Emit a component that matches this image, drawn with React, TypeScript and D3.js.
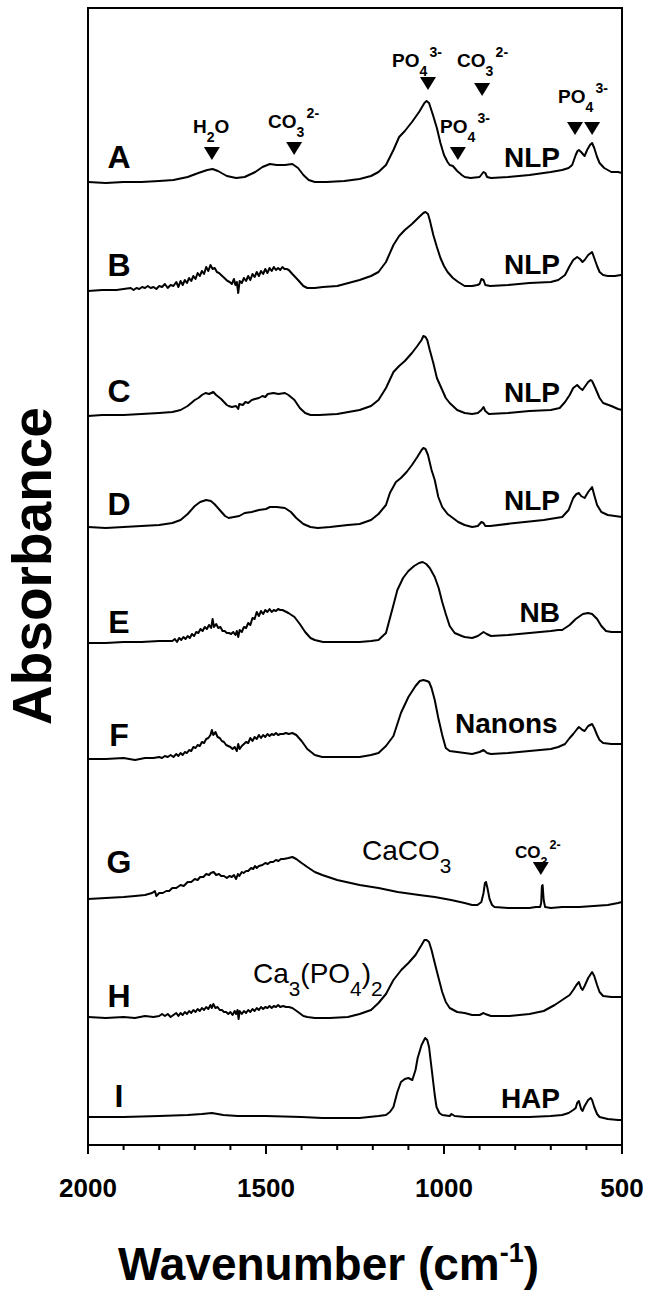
import { useRef, useEffect } from "react"
import * as d3 from "d3"

type Pt = [number, number]

// FTIR spectra: [wavenumber cm-1, absorbance x100 above the trace's own baseline]
const specA: Pt[] = [
  [2000, 0], [1950, -1], [1900, 0], [1850, 0], [1800, 1], [1760, 2], [1720, 5], [1690, 9], [1665, 12], [1650, 13],
  [1635, 11], [1610, 6], [1584, 4], [1560, 5], [1530, 10], [1510, 15], [1489, 18], [1470, 17], [1447, 17], [1426, 18],
  [1410, 14], [1395, 7], [1380, 2], [1363, 0], [1330, 0], [1280, 1], [1237, 3], [1205, 6], [1184, 10], [1163, 17],
  [1142, 32], [1126, 45], [1110, 51], [1090, 60], [1070, 70], [1055, 79], [1049, 81], [1042, 79], [1031, 67], [1020, 54],
  [1010, 39], [1000, 27], [990, 20], [984, 17], [975, 16], [963, 11], [950, 7], [942, 5], [925, 4], [900, 5],
  [889, 10], [884, 9], [879, 5], [868, 4], [820, 5], [760, 7], [700, 10], [668, 12], [650, 14], [640, 17],
  [630, 27], [625, 31], [621, 32], [615, 30], [605, 26], [598, 32], [590, 37], [584, 39], [578, 34], [570, 25],
  [563, 19], [550, 14], [530, 10], [511, 10], [500, 9],
]
const specB: Pt[] = [
  [2000, 0], [1960, 1], [1920, 1], [1880, 3], [1872, 1], [1864, 3], [1856, 2], [1848, 4], [1840, 3], [1832, 5],
  [1824, 3], [1816, 4], [1808, 2], [1800, 5], [1792, 4], [1784, 7], [1776, 3], [1768, 6], [1760, 5], [1752, 9],
  [1746, 4], [1740, 10], [1734, 6], [1728, 11], [1722, 8], [1716, 13], [1710, 10], [1704, 15], [1698, 12], [1692, 18],
  [1686, 15], [1680, 20], [1674, 17], [1668, 24], [1662, 20], [1656, 26], [1650, 22], [1644, 23], [1638, 19], [1632, 18],
  [1626, 16], [1620, 14], [1614, 12], [1608, 10], [1602, 9], [1596, 7], [1590, 12], [1586, 6], [1582, 9], [1578, -2],
  [1574, 10], [1568, 8], [1562, 13], [1556, 10], [1550, 15], [1544, 11], [1538, 17], [1532, 14], [1526, 19], [1520, 15],
  [1514, 20], [1508, 17], [1502, 22], [1496, 18], [1490, 23], [1484, 20], [1478, 24], [1472, 21], [1466, 23], [1460, 21],
  [1454, 24], [1448, 22], [1442, 22], [1436, 21], [1426, 17], [1410, 11], [1395, 5], [1384, 3], [1363, 3], [1340, 4],
  [1300, 5], [1237, 11], [1205, 15], [1184, 19], [1163, 29], [1142, 46], [1126, 55], [1110, 61], [1090, 67], [1070, 74],
  [1058, 78], [1052, 79], [1045, 77], [1040, 71], [1030, 56], [1020, 44], [1010, 33], [1000, 25], [990, 19], [975, 13],
  [960, 9], [942, 5], [921, 5], [906, 6], [900, 7], [895, 12], [889, 11], [884, 6], [870, 5], [820, 6],
  [760, 8], [700, 9], [679, 11], [660, 16], [647, 25], [637, 31], [626, 34], [618, 32], [611, 29], [605, 31],
  [595, 36], [584, 39], [578, 33], [570, 25], [563, 19], [553, 16], [540, 15], [520, 15], [503, 16], [500, 16],
]
const specC: Pt[] = [
  [2000, -1], [1960, 0], [1900, 0], [1850, 1], [1800, 2], [1763, 3], [1740, 5], [1720, 9], [1700, 15], [1690, 17],
  [1680, 20], [1670, 22], [1660, 21], [1648, 23], [1640, 20], [1626, 16], [1610, 10], [1605, 9], [1596, 8], [1584, 9],
  [1578, 6], [1575, 11], [1565, 10], [1558, 13], [1550, 12], [1540, 15], [1531, 16], [1520, 17], [1510, 19], [1502, 18],
  [1495, 21], [1479, 22], [1465, 21], [1447, 22], [1437, 20], [1420, 15], [1405, 7], [1390, 2], [1375, 0], [1350, 0],
  [1300, 1], [1237, 5], [1205, 9], [1184, 15], [1163, 27], [1142, 43], [1126, 49], [1110, 54], [1090, 62], [1075, 69],
  [1063, 75], [1058, 79], [1052, 78], [1047, 75], [1040, 65], [1030, 52], [1020, 37], [1005, 25], [995, 17], [984, 12],
  [963, 5], [942, 2], [921, 1], [905, 2], [895, 5], [889, 8], [884, 4], [874, 1], [820, 2], [760, 4],
  [700, 5], [675, 7], [660, 13], [647, 20], [637, 27], [626, 30], [618, 27], [611, 25], [603, 29], [595, 33],
  [588, 35], [584, 34], [575, 27], [563, 17], [553, 12], [530, 9], [511, 6], [500, 5],
]
const specD: Pt[] = [
  [2000, 0], [1950, -1], [1900, 0], [1850, 1], [1800, 2], [1763, 4], [1740, 7], [1720, 13], [1700, 21], [1685, 25],
  [1668, 27], [1655, 26], [1645, 23], [1630, 17], [1615, 11], [1605, 9], [1590, 10], [1575, 11], [1560, 14], [1540, 15],
  [1520, 17], [1500, 18], [1489, 20], [1470, 20], [1447, 19], [1430, 15], [1415, 9], [1395, 3], [1375, 0], [1355, -1],
  [1320, 0], [1270, 2], [1237, 3], [1205, 7], [1184, 13], [1163, 22], [1152, 34], [1135, 45], [1121, 49], [1105, 55],
  [1090, 62], [1075, 70], [1063, 77], [1058, 79], [1052, 78], [1045, 72], [1035, 57], [1026, 47], [1016, 30], [1005, 20],
  [990, 13], [975, 9], [960, 5], [942, 2], [921, 0], [905, 1], [895, 5], [889, 4], [884, 1], [870, 1],
  [800, 4], [720, 7], [668, 10], [650, 17], [637, 29], [628, 33], [621, 34], [615, 31], [605, 29], [595, 35],
  [584, 40], [578, 32], [570, 22], [558, 15], [540, 12], [520, 11], [500, 10],
]
const specE: Pt[] = [
  [2000, 0], [1950, 0], [1900, 1], [1850, 1], [1800, 2], [1763, 2], [1756, 4], [1750, 1], [1744, 5], [1738, 3],
  [1732, 6], [1726, 4], [1720, 7], [1714, 5], [1708, 9], [1702, 7], [1696, 11], [1690, 10], [1684, 14], [1678, 12],
  [1672, 16], [1666, 14], [1660, 18], [1654, 15], [1650, 24], [1646, 16], [1640, 19], [1634, 15], [1628, 16], [1622, 12],
  [1616, 12], [1610, 10], [1604, 10], [1598, 9], [1592, 11], [1586, 8], [1582, 12], [1578, 6], [1574, 13], [1568, 11],
  [1562, 16], [1556, 15], [1550, 20], [1544, 18], [1538, 25], [1532, 24], [1526, 31], [1520, 27], [1514, 32], [1508, 29],
  [1502, 33], [1496, 31], [1490, 34], [1484, 31], [1478, 33], [1472, 32], [1466, 34], [1460, 33], [1454, 33], [1448, 32],
  [1437, 30], [1420, 26], [1405, 19], [1390, 11], [1375, 5], [1363, 3], [1340, 1], [1300, 1], [1237, 1], [1205, 2],
  [1184, 3], [1163, 10], [1142, 38], [1131, 53], [1115, 65], [1100, 72], [1084, 77], [1070, 80], [1060, 81], [1050, 79],
  [1040, 75], [1026, 66], [1015, 55], [1005, 41], [995, 29], [984, 17], [970, 10], [950, 7], [942, 6], [921, 5],
  [905, 7], [889, 11], [880, 9], [868, 7], [820, 8], [760, 10], [700, 12], [679, 13], [668, 13], [647, 18],
  [630, 24], [610, 29], [595, 30], [584, 29], [570, 24], [558, 17], [545, 12], [530, 11], [500, 11],
]
const specF: Pt[] = [
  [2000, 0], [1950, 0], [1900, 1], [1868, -1], [1840, 1], [1816, 1], [1800, 2], [1792, 1], [1784, 3], [1776, 2],
  [1768, 4], [1760, 2], [1752, 5], [1746, 3], [1740, 6], [1734, 4], [1728, 7], [1722, 6], [1716, 9], [1710, 8],
  [1704, 12], [1698, 11], [1692, 14], [1686, 13], [1680, 17], [1674, 16], [1668, 20], [1662, 21], [1656, 24], [1652, 29],
  [1648, 24], [1642, 27], [1636, 22], [1630, 21], [1624, 18], [1618, 17], [1612, 14], [1606, 13], [1600, 12], [1594, 10],
  [1588, 12], [1582, 8], [1578, 15], [1574, 10], [1568, 13], [1562, 15], [1556, 17], [1550, 16], [1544, 21], [1538, 18],
  [1532, 22], [1526, 20], [1520, 24], [1514, 21], [1508, 24], [1502, 22], [1496, 25], [1490, 23], [1484, 25], [1478, 24],
  [1472, 26], [1466, 24], [1460, 25], [1452, 25], [1444, 26], [1436, 25], [1426, 26], [1415, 24], [1400, 18], [1384, 10],
  [1363, 4], [1342, 2], [1300, 2], [1237, 2], [1205, 4], [1184, 6], [1163, 13], [1142, 23], [1121, 46], [1100, 62],
  [1080, 73], [1068, 78], [1058, 79], [1048, 78], [1042, 77], [1035, 71], [1026, 59], [1016, 41], [1005, 24], [995, 11],
  [984, 8], [963, 7], [942, 6], [921, 5], [900, 7], [889, 9], [879, 6], [868, 5], [820, 6], [760, 8],
  [700, 10], [679, 12], [660, 15], [647, 21], [637, 25], [626, 30], [621, 32], [611, 29], [605, 28], [595, 33],
  [584, 35], [578, 31], [570, 24], [563, 19], [553, 16], [530, 15], [511, 15], [500, 15],
]
const specG: Pt[] = [
  [2000, 0], [1950, 1], [1900, 2], [1868, 3], [1840, 4], [1820, 6], [1812, 8], [1808, 3], [1800, 6], [1790, 6],
  [1780, 8], [1772, 8], [1763, 11], [1752, 11], [1740, 14], [1731, 13], [1720, 17], [1710, 17], [1700, 20], [1692, 19],
  [1685, 22], [1676, 22], [1668, 25], [1660, 24], [1655, 26], [1647, 27], [1640, 24], [1632, 25], [1626, 23], [1618, 23],
  [1610, 21], [1603, 23], [1596, 22], [1590, 24], [1584, 20], [1579, 25], [1575, 23], [1568, 27], [1563, 26], [1556, 28],
  [1550, 28], [1542, 31], [1536, 30], [1531, 33], [1526, 31], [1520, 33], [1510, 34], [1502, 36], [1495, 35], [1488, 37],
  [1480, 37], [1472, 39], [1465, 38], [1458, 40], [1450, 40], [1437, 41], [1426, 42], [1415, 40], [1400, 36], [1384, 32],
  [1363, 27], [1342, 24], [1300, 19], [1237, 14], [1184, 11], [1130, 7], [1070, 4], [1026, 2], [980, -1], [942, -4],
  [921, -6], [906, -6], [895, -3], [889, 6], [885, 16], [882, 17], [878, 11], [872, 0], [865, -6], [858, -8],
  [820, -9], [760, -9], [742, -8], [730, -8], [727, -4], [725, 13], [723, 14], [720, -1], [716, -8], [700, -9],
  [668, -8], [620, -8], [580, -7], [540, -6], [511, -4], [500, -3],
]
const specH: Pt[] = [
  [2000, 0], [1950, -1], [1900, 0], [1868, -1], [1840, 1], [1816, 0], [1800, 1], [1792, 3], [1784, 1], [1776, 3],
  [1768, 0], [1760, 2], [1752, 4], [1746, 1], [1740, 4], [1734, 2], [1728, 5], [1722, 3], [1716, 6], [1710, 4],
  [1704, 7], [1698, 5], [1692, 8], [1686, 6], [1680, 9], [1674, 7], [1668, 10], [1662, 8], [1656, 12], [1652, 9],
  [1648, 13], [1642, 9], [1636, 10], [1630, 7], [1624, 7], [1618, 5], [1612, 5], [1606, 3], [1600, 5], [1594, 2],
  [1588, 6], [1584, 3], [1580, 7], [1577, -2], [1574, 6], [1568, 3], [1562, 6], [1556, 4], [1550, 7], [1544, 5],
  [1538, 8], [1532, 6], [1526, 9], [1520, 7], [1514, 10], [1508, 8], [1502, 10], [1496, 9], [1490, 11], [1484, 9],
  [1478, 11], [1472, 10], [1466, 12], [1460, 10], [1452, 11], [1444, 10], [1436, 10], [1426, 9], [1410, 5], [1395, 1],
  [1384, 0], [1363, -1], [1321, -1], [1270, 0], [1237, 3], [1205, 7], [1184, 14], [1163, 23], [1142, 37], [1120, 47],
  [1100, 54], [1080, 62], [1063, 72], [1055, 77], [1049, 77], [1042, 75], [1035, 67], [1026, 54], [1016, 40], [1005, 25],
  [995, 15], [984, 9], [963, 5], [942, 4], [921, 2], [900, 2], [889, 4], [884, 3], [868, 1], [816, 1],
  [760, 3], [720, 6], [689, 12], [668, 17], [647, 22], [637, 27], [628, 32], [621, 35], [615, 29], [611, 27],
  [605, 31], [595, 39], [584, 45], [578, 41], [570, 32], [563, 25], [553, 21], [530, 20], [511, 20], [500, 20],
]
const specI: Pt[] = [
  [2000, 0], [1900, 0], [1800, 1], [1720, 2], [1680, 3], [1652, 4], [1620, 2], [1580, 1], [1500, 1], [1400, 0],
  [1342, -1], [1237, -1], [1184, 1], [1163, 2], [1152, 5], [1142, 10], [1131, 25], [1121, 35], [1110, 38], [1100, 39],
  [1089, 37], [1080, 47], [1074, 59], [1063, 72], [1053, 79], [1047, 77], [1042, 70], [1036, 52], [1031, 37], [1026, 22],
  [1021, 10], [1013, 4], [1005, 2], [984, 1], [979, 3], [970, 1], [940, 0], [860, 0], [760, 0], [700, 1],
  [668, 2], [650, 4], [637, 7], [630, 9], [626, 14], [621, 16], [615, 8], [611, 6], [605, 11], [595, 17],
  [588, 19], [584, 17], [578, 10], [570, 3], [563, 0], [540, -2], [511, -3], [500, -3],
]

const spectra = [specA, specB, specC, specD, specE, specF, specG, specH, specI]
const traceLetters = ["A", "B", "C", "D", "E", "F", "G", "H", "I"]
// vertical stacking offset of each trace (same units)
const traceOffsets = [963, 854, 730, 618, 502, 386, 246, 128, 28]
const sampleNames = ["NLP", "NLP", "NLP", "NLP", "NB", "", "", "", "HAP"]

const majorTicks = [2000, 1500, 1000, 500]
const minorTicks = d3.range(500, 2001, 100)

type Part = [string, "n" | "sub" | "sup"]
const H2O: Part[] = [["H", "n"], ["2", "sub"], ["O", "n"]]
const CO3: Part[] = [["CO", "n"], ["3", "sub"], ["2-", "sup"]]
const PO4: Part[] = [["PO", "n"], ["4", "sub"], ["3-", "sup"]]

// band markers: wavenumbers of the arrows
const bandMarks: { wn: number[]; label: Part[] }[] = [
  { wn: [1652], label: H2O },
  { wn: [1421], label: CO3 },
  { wn: [1045], label: PO4 },
  { wn: [893], label: CO3 },
  { wn: [961], label: PO4 },
  { wn: [632, 584], label: PO4 },
  { wn: [728], label: CO3 },
]
// layout of the markers (px): arrow tip y, text left x, text baseline y, font size
const markLayout = [
  { tip: 160, tx: 193, ty: 133, fs: 19 },
  { tip: 155, tx: 268, ty: 128, fs: 19 },
  { tip: 90, tx: 392, ty: 67, fs: 19 },
  { tip: 96, tx: 457, ty: 67, fs: 19 },
  { tip: 160, tx: 440, ty: 133, fs: 19 },
  { tip: 135, tx: 558, ty: 103, fs: 19 },
  { tip: 875, tx: 515, ty: 858, fs: 17 },
]

const FONT = "'Liberation Sans', Arial, Helvetica, sans-serif"

export default function App() {
  const svgRef = useRef<SVGSVGElement>(null)

  useEffect(() => {
    if (!svgRef.current) return
    const svg = d3.select(svgRef.current)
    svg.selectAll("*").remove()

    const W = 650
    const H = 1292
    const margin = { top: 8, right: 28, bottom: 147, left: 88 }
    const width = W - margin.left - margin.right
    const height = H - margin.top - margin.bottom

    const x = d3.scaleLinear().domain([2000, 500]).range([0, width])
    const y = d3.scaleLinear().domain([0, height]).range([height, 0])

    const g = svg.append("g").attr("transform", `translate(${margin.left},${margin.top})`)

    // spectra
    const line = d3
      .line<Pt>()
      .x((d) => x(d[0]))
      .y((d) => y(d[1]))

    spectra.forEach((spec, i) => {
      const off = traceOffsets[i]
      g.append("path")
        .attr("d", line(spec.map((d) => [d[0], d[1] + off] as Pt)))
        .attr("fill", "none")
        .attr("stroke", "#000")
        .attr("stroke-width", 2)
        .attr("stroke-linejoin", "round")
    })

    // frame
    g.append("rect")
      .attr("width", width)
      .attr("height", height)
      .attr("fill", "none")
      .attr("stroke", "#000")
      .attr("stroke-width", 2)

    // ticks
    const ax = g.append("g").attr("transform", `translate(0,${height})`)
    ax.selectAll(".minor")
      .data(minorTicks)
      .enter()
      .append("line")
      .attr("x1", (d) => x(d))
      .attr("x2", (d) => x(d))
      .attr("y1", 0)
      .attr("y2", (d) => (majorTicks.includes(d) ? 9 : 5))
      .attr("stroke", "#000")
      .attr("stroke-width", 2)
    ax.selectAll(".lbl")
      .data(majorTicks)
      .enter()
      .append("text")
      .attr("x", (d) => x(d))
      .attr("y", 52)
      .attr("text-anchor", "middle")
      .style("font-family", FONT)
      .style("font-weight", "bold")
      .style("font-size", "26px")
      .text((d) => d)

    // axis titles
    const xt = svg
      .append("text")
      .attr("x", 118)
      .attr("y", 1280)
      .style("font-family", FONT)
      .style("font-weight", "bold")
      .style("font-size", "46px")
    xt.append("tspan").text("Wavenumber (cm")
    xt.append("tspan").attr("dy", -18).style("font-size", "27px").text("-1")
    xt.append("tspan").attr("dy", 18).text(")")

    svg
      .append("text")
      .attr("transform", "translate(51,566) rotate(-90)")
      .attr("text-anchor", "middle")
      .style("font-family", FONT)
      .style("font-weight", "bold")
      .style("font-size", "55px")
      .text("Absorbance")

    // trace letters and sample names
    const letterY = [168, 276, 402, 515, 633, 746, 873, 1007, 1107]
    const nameY = [167, 274, 402, 510, 622, 733, 0, 0, 1108]
    traceLetters.forEach((t, i) => {
      svg
        .append("text")
        .attr("x", 119)
        .attr("y", letterY[i])
        .attr("text-anchor", "middle")
        .style("font-family", FONT)
        .style("font-weight", "bold")
        .style("font-size", "32px")
        .text(t)
      if (sampleNames[i]) {
        svg
          .append("text")
          .attr("x", 560)
          .attr("y", nameY[i])
          .attr("text-anchor", "end")
          .style("font-family", FONT)
          .style("font-weight", "bold")
          .style("font-size", "28px")
          .text(sampleNames[i])
      }
    })

    const chem = (px: number, py: number, parts: Part[], fs: number, weight: string) => {
      const t = svg
        .append("text")
        .attr("x", px)
        .attr("y", py)
        .style("font-family", FONT)
        .style("font-weight", weight)
        .style("font-size", `${fs}px`)
      let shift = 0
      parts.forEach(([s, k]) => {
        const target = k === "sub" ? fs * 0.45 : k === "sup" ? -fs * 0.55 : 0
        t.append("tspan")
          .attr("dy", target - shift)
          .attr("dx", k === "sup" ? fs * 0.12 : 0)
          .style("font-size", k === "n" ? `${fs}px` : `${fs * 0.74}px`)
          .text(s)
        shift = target
      })
    }

    chem(455, 733, [["Nanons", "n"]], 28, "bold")
    chem(362, 860, [["CaCO", "n"], ["3", "sub"]], 28, "normal")
    chem(253, 983, [["Ca", "n"], ["3", "sub"], ["(PO", "n"], ["4", "sub"], [")", "n"], ["2", "sub"]], 28, "normal")

    // band markers
    bandMarks.forEach((m, i) => {
      const L = markLayout[i]
      m.wn.forEach((wn) => {
        const cx = margin.left + x(wn)
        svg
          .append("path")
          .attr("d", `M${cx - 8},${L.tip - 13}L${cx + 8},${L.tip - 13}L${cx},${L.tip}Z`)
          .attr("fill", "#000")
      })
      chem(L.tx, L.ty, m.label, L.fs, "bold")
    })
  }, [])

  return (
    <svg
      ref={svgRef}
      width={650}
      height={1292}
      style={{ position: "absolute", left: 0, top: 0, background: "#fff" }}
    />
  )
}
